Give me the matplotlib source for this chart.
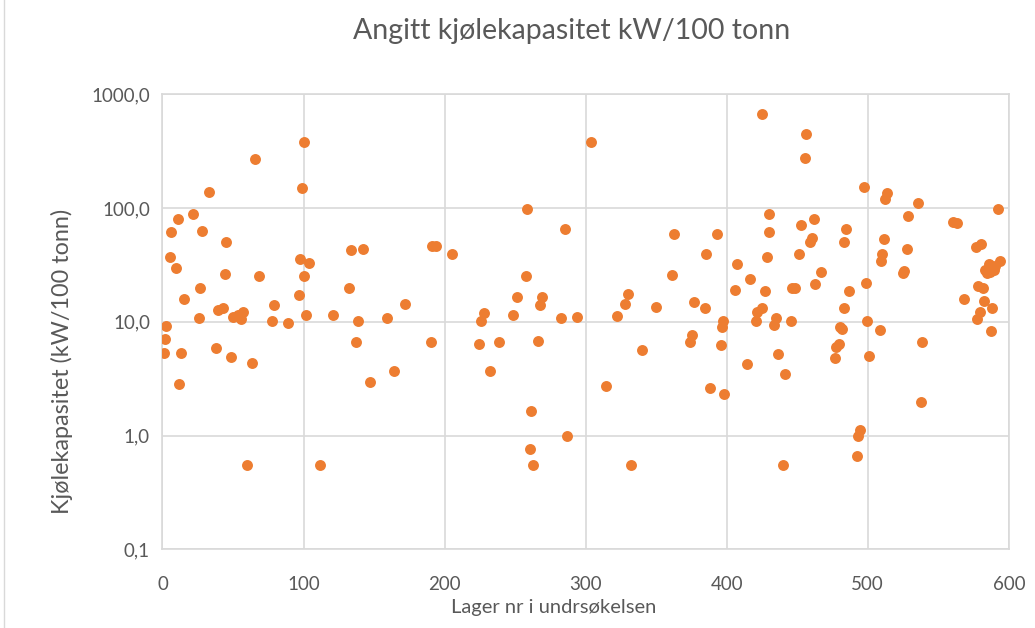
import numpy as np
import matplotlib.pyplot as plt
from matplotlib.lines import Line2D
from matplotlib.ticker import FixedLocator, FuncFormatter, NullLocator

plt.rcParams["font.family"] = ["Lato", "DejaVu Sans"]

TITLE = "Angitt kjølekapasitet kW/100 tonn"
X_LABEL = "Lager nr i undrsøkelsen"
Y_LABEL = "Kjølekapasitet (kW/100 tonn)"

# lager nr (x) and kW/100 tonn (y)
lager_nr = [
    100, 65.6, 98.8, 33, 21.7, 10.8, 5.9, 27.8, 44.8, 5.4, 9.7, 97.4, 103.8, 133.7, 142,
    191, 194, 205.5, 44.1, 68.6, 100.5, 26.7, 96.9, 132.3, 15.1, 39.4, 42.9, 57.1, 50, 53.5,
    55.9, 26.2, 79, 77.8, 88.9, 101.7, 120.8, 138.9, 159.4, 172.2, 2.8, 2.1, 0.9, 13.4, 38,
    48.8, 63.4, 12, 137.3, 147.2, 164.4, 190.3, 60.1, 111.6,
    303.5, 258.4, 285.1, 362.6, 392.9, 385.3, 361.5, 257.9, 251.5, 269, 267.9, 227.7, 225.8,
    248.7, 282.5, 293.6, 322, 329.8, 328.1, 349.6, 376.8, 384.6, 397.6, 396.4, 224.6, 238.8,
    266.4, 375.4, 374.2, 395.7, 339.7, 232.4, 314.4, 387.9, 397.9, 261.5, 286.8, 260.8, 262.6,
    332.2,
    424.8, 456.3, 455.8, 497.4, 513.5, 512.1, 535.7, 592.5, 430.3, 462, 452.5, 429.8, 484.7,
    528.4, 560.3, 563.6, 460.5, 459.1, 483.5, 511.6, 451.3, 428.6, 510.4, 509.3, 527.9, 526,
    524.9, 576.4, 580.4, 585.6, 593.9, 589.2, 584.4, 590.3, 586.8, 583.2, 407.6, 466.7, 416.8,
    405.9, 427.2, 446.1, 448.5, 462.4, 486.6, 498.8, 483, 424.8, 421.8, 420.6, 434.8, 433.6,
    445.7, 480.4, 481.8, 499.6, 508.8, 568.3, 578.5, 581.6, 582.5, 588.2, 579.7, 577.6, 587.7,
    538.1, 537.4, 414.4, 436.7, 441.6, 476.6, 477.6, 479.5, 500.7, 494.6, 493.4, 492.7, 440.2,
]
kw_per_100t = [
    378, 270, 151, 138, 89, 80.5, 61.5, 62.8, 49.9, 36.8, 29.9, 35.6, 33.2, 42.5, 43.3,
    46.6, 46.6, 39.6, 26.4, 25.1, 25.4, 19.9, 17.1, 19.9, 15.8, 12.8, 13.3, 12.3, 11.1, 11.5,
    10.5, 10.9, 14.0, 10.1, 9.7, 11.5, 11.5, 10.1, 10.8, 14.3, 9.2, 7.0, 5.3, 5.3, 5.9,
    4.95, 4.38, 2.83, 6.7, 2.96, 3.73, 6.7, 0.548, 0.548,
    378, 99, 66, 59.4, 58.7, 39.6, 25.9, 25.1, 16.4, 16.4, 14.0, 12.0, 10.1,
    11.5, 10.8, 11.1, 11.3, 17.4, 14.2, 13.5, 14.8, 13.2, 10.1, 9.0, 6.4, 6.7,
    6.8, 7.6, 6.7, 6.2, 5.6, 3.73, 2.72, 2.64, 2.33, 1.66, 0.99, 0.76, 0.548,
    0.548,
    676, 445, 273, 154, 135, 120, 111, 99, 89, 80.5, 70.8, 61.5, 64.9,
    85, 74.8, 73.9, 54.8, 49.9, 49.9, 53.3, 39.6, 37, 39.8, 34.4, 43.3, 27.9,
    26.6, 45.7, 48.2, 32.1, 34.4, 28.5, 26.6, 31, 27.5, 28.5, 32.1, 27.4, 23.7,
    19.2, 18.6, 19.9, 19.9, 21.4, 18.6, 21.9, 13.3, 13.3, 12.1, 10.1, 10.8, 9.35,
    10.1, 9.0, 8.6, 10.1, 8.4, 15.9, 20.6, 19.7, 15.3, 13.3, 12.1, 10.6, 8.3,
    6.7, 1.99, 4.29, 5.23, 3.49, 4.79, 6.0, 6.4, 4.99, 1.13, 1.0, 0.66, 0.548,
]

X_TICKS = [0, 100, 200, 300, 400, 500, 600]
Y_TICKS = [0.1, 1, 10, 100, 1000]

GRID = "#d9d9d9"
TEXT = "#595959"
ORANGE = "#ed7d31"

fig = plt.figure(figsize=(10.35, 6.28), dpi=100)
ax = fig.add_axes([0.157, 0.1253, 0.8177, 0.7245])

ax.scatter(lager_nr, kw_per_100t, s=62, color=ORANGE, linewidths=0, zorder=3)

ax.set_yscale("log")
ax.set_xlim(0, 600)
ax.set_ylim(0.1, 1000)
ax.xaxis.set_major_locator(FixedLocator(X_TICKS))
ax.yaxis.set_major_locator(FixedLocator(Y_TICKS))
ax.yaxis.set_minor_locator(NullLocator())
ax.yaxis.set_major_formatter(FuncFormatter(lambda v, p: f"{v:.1f}".replace(".", ",")))
ax.grid(True, color=GRID, linewidth=1.2, zorder=0)
for s in ax.spines.values():
    s.set_color(GRID)
    s.set_linewidth(1.2)
ax.tick_params(length=0, labelsize=13.5, colors=TEXT, pad=9)
ax.tick_params(axis="x", pad=19)

fig.text(0.535, 1 - 607 / 628, X_LABEL, ha="center", va="center", fontsize=14.5, color=TEXT)
fig.text(62 / 1035, 1 - 361 / 628, Y_LABEL, ha="center", va="center", rotation=90,
         fontsize=16.8, color=TEXT)
fig.text(572 / 1035, 1 - 31 / 628, TITLE, ha="center", va="center", fontsize=20.5, color=TEXT)

fig.add_artist(Line2D([0.004, 0.004], [0, 1], transform=fig.transFigure, color=GRID, linewidth=1))

fig.savefig("out.png", dpi=100)
